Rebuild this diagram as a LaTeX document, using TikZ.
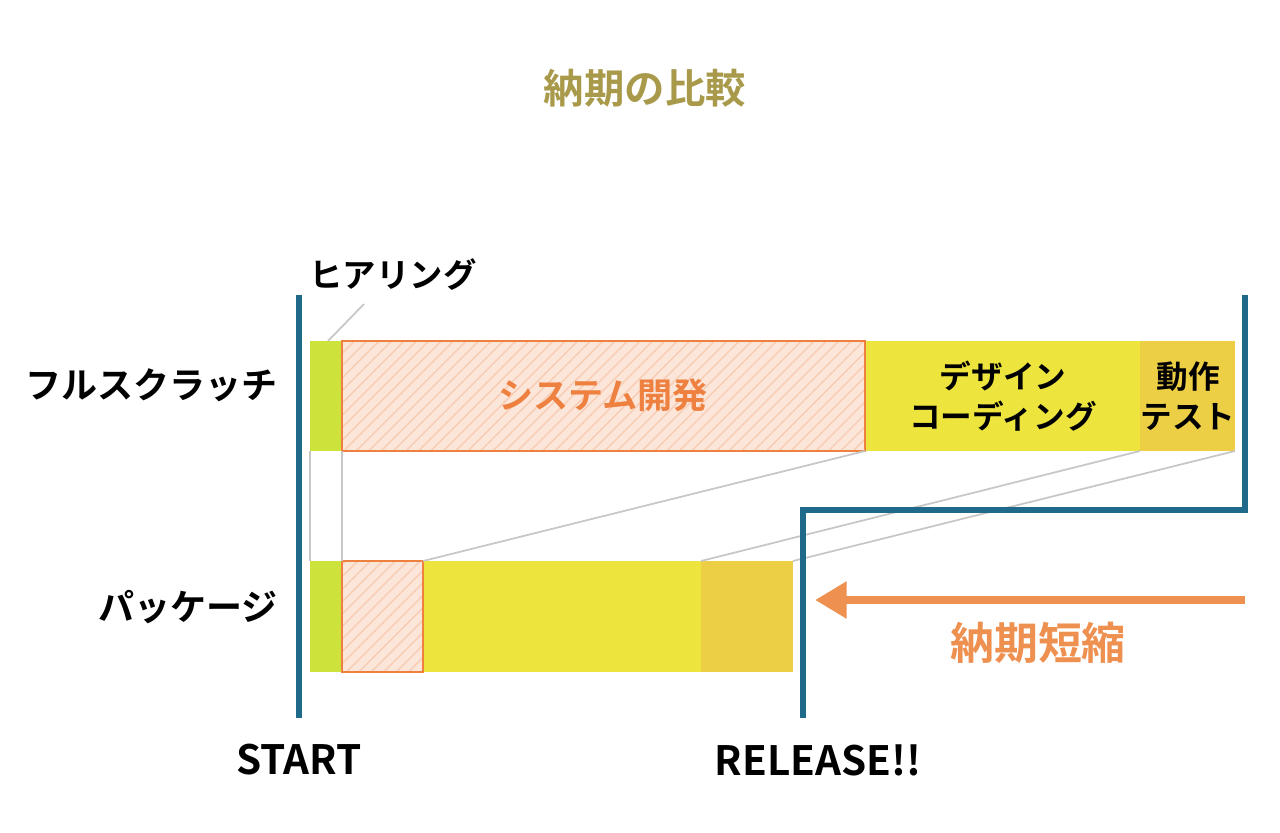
\documentclass[tikz,border=0pt]{standalone}
\usepackage{fontspec}
\setmainfont{Noto Sans CJK JP Bold}
\usetikzlibrary{arrows.meta,positioning,patterns.meta}
\definecolor{titlec}{HTML}{A89A4A}
\definecolor{linec}{HTML}{1F6A8A}
\definecolor{hearc}{HTML}{CDE23A}
\definecolor{devc}{HTML}{FCE6DA}
\definecolor{devline}{HTML}{EE8040}
\definecolor{codec}{HTML}{EDE53E}
\definecolor{testc}{HTML}{ECCF45}
\definecolor{arrc}{HTML}{EE9050}
\tikzset{
  lbl/.style={font=\fontsize{20pt}{24pt}\selectfont, text=black},
  devbox/.style={fill=devc, draw=devline, line width=1pt},
  hatch/.style={pattern={Lines[angle=45,distance=5pt,line width=0.8pt]}, pattern color=devline!40},
  guide/.style={draw=black!22, line width=1pt},
  axis/.style={draw=linec, line width=3pt}
}
\begin{document}
\begin{tikzpicture}[x=0.02cm,y=-0.02cm]
\useasboundingbox (0,0) rectangle (1280,832);
\node[font=\fontsize{23pt}{28pt}\selectfont, text=titlec] (title) at (645,88) {納期の比較};
% bars: full scratch
\fill[hearc] (310,341) rectangle (342,451);
\fill[codec] (865,341) rectangle (1140,451);
\fill[testc] (1140,341) rectangle (1235,451);
\path[devbox] (342,341) rectangle (865,451);
\path[hatch] (342,341) rectangle (865,451);
\draw[devline, line width=1pt] (342,341) rectangle (865,451);
% bars: package
\fill[hearc] (310,561) rectangle (342,672);
\fill[codec] (423,561) rectangle (701,672);
\fill[testc] (701,561) rectangle (793,672);
\path[devbox] (342,561) rectangle (423,672);
\path[hatch] (342,561) rectangle (423,672);
\draw[devline, line width=1pt] (342,561) rectangle (423,672);
% guides
\coordinate (a1) at (310,451); \coordinate (a2) at (310,561);
\coordinate (b1) at (342,451); \coordinate (b2) at (342,561);
\coordinate (c1) at (865,451); \coordinate (c2) at (423,561);
\coordinate (d1) at (1140,451); \coordinate (d2) at (701,561);
\coordinate (e1) at (1235,451); \coordinate (e2) at (793,561);
\foreach \p in {a,b,c,d,e} \draw[guide] (\p1) -- (\p2);
% axes
\draw[axis] (299,295) -- (299,718);
\draw[axis] (1245,295) -- (1245,510) -- (803,510) -- (803,718);
% labels
\node[lbl, font=\fontsize{19pt}{23pt}\selectfont] (hear) at (393,275) {ヒアリング};
\coordinate (hearpt) at (328,341);
\draw[guide] (hearpt) -- (364,304);
\node[lbl, anchor=east, font=\fontsize{20.5pt}{24pt}\selectfont] (full) at (284,385) {フルスクラッチ};
\node[lbl, anchor=east, font=\fontsize{20.5pt}{24pt}\selectfont] (pkg) at (284,607) {パッケージ};
\node[lbl, text=devline] (dev) at (603,395) {システム開発};
\node[lbl, font=\fontsize{18pt}{23pt}\selectfont, align=center] (code) at (1003,396) {デザイン\\コーディング};
\node[lbl, font=\fontsize{18pt}{23pt}\selectfont, align=center] (test) at (1188,396) {動作\\テスト};
\coordinate (arrs) at (1245,600);
\coordinate (arre) at (815,600);
\draw[arrc, line width=5pt, -{Triangle[length=18pt,width=20pt]}] (arrs) -- (arre);
\node[lbl, font=\fontsize{25pt}{30pt}\selectfont, text=arrc] (short) at (1038,643) {納期短縮};
\node[lbl, font=\fontsize{23pt}{27pt}\selectfont] (start) at (299,760) {START};
\node[lbl, font=\fontsize{23pt}{27pt}\selectfont] (rel) at (818,760) {RELEASE!!};
\end{tikzpicture}
\end{document}
